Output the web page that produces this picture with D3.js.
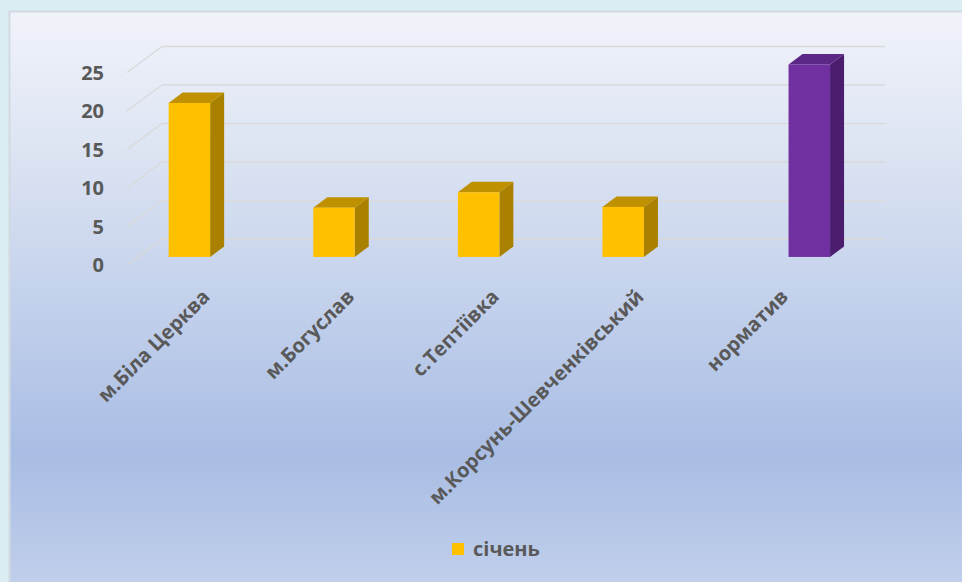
<!DOCTYPE html>
<html>
<head>
<meta charset="utf-8">
<script src="https://cdn.jsdelivr.net/npm/d3@7/dist/d3.min.js"></script>
<style>
  html, body { margin: 0; padding: 0; background: #d9edf3; }
  svg { display: block; }
  text { font-family: 'Open Sans', sans-serif; font-weight: bold; fill: #595959; }
</style>
</head>
<body>
<svg id="chart" width="962" height="582"></svg>
<script>
// Chart data
var categories = ['м.Біла Церква', 'м.Богуслав', 'с.Тептіївка', 'м.Корсунь-Шевченківський', 'норматив']
var seriesNames = ['січень', 'норматив']
var sichen = [20, 6.4, 8.4, 6.5, null]
var normatyv = [null, null, null, null, 25]
var yTicks = [0, 5, 10, 15, 20, 25]
var legendNames = ['січень']

var conf = {
  width: 962,
  height: 582,
  left: 127,
  right: 850,
  depthX: 35,
  depthY: -26,
  barFront: 0.31,
  barBack: 0.71
}

var colors = {
  'січень': { front: '#ffc000', side: '#a98000', top: '#bf9000' },
  'норматив': { front: '#7030a0', side: '#4b1d6f', top: '#5c2886' }
}

var svg = d3.select('#chart')

// Background panel
var defs = svg.append('defs')
var grad = defs.append('linearGradient')
  .attr('id', 'bg')
  .attr('x1', 0).attr('y1', 0).attr('x2', 0).attr('y2', 1)
grad.append('stop').attr('offset', '0%').attr('stop-color', '#f1f3fa')
grad.append('stop').attr('offset', '25%').attr('stop-color', '#dbe3f2')
grad.append('stop').attr('offset', '50%').attr('stop-color', '#c2d0eb')
grad.append('stop').attr('offset', '75%').attr('stop-color', '#a9bde4')
grad.append('stop').attr('offset', '100%').attr('stop-color', '#c3d1eb')

svg.append('rect')
  .attr('x', 9.5)
  .attr('y', 11.5)
  .attr('width', 970)
  .attr('height', 590)
  .attr('fill', 'url(#bg)')
  .attr('stroke', '#d3d9e0')
  .attr('stroke-width', 2)

// Scales
var y = d3.scaleLinear()
  .domain([0, 25])
  .range([265, 72.5])

var x0 = d3.scaleBand()
  .domain(categories)
  .range([conf.left, conf.right])
  .paddingInner(0.426)
  .paddingOuter(0.213)

var x1 = d3.scaleBand()
  .domain(seriesNames)
  .range([0, x0.bandwidth()])

// project a point on the front plane into the given depth
function proj (x, v, f) {
  return [x + f * conf.depthX, y(v) + f * conf.depthY]
}

// Gridlines: back wall + side wall
var grid = svg.append('g').attr('class', 'grid')

grid.selectAll('line.back')
  .data(yTicks)
  .enter()
    .append('line')
    .attr('class', 'back')
    .attr('x1', function (d) { return proj(conf.left, d, 1)[0] })
    .attr('y1', function (d) { return proj(conf.left, d, 1)[1] })
    .attr('x2', function (d) { return proj(conf.right, d, 1)[0] })
    .attr('y2', function (d) { return proj(conf.right, d, 1)[1] })
    .attr('stroke', '#d9d9d9')
    .attr('stroke-width', 1.3)

grid.selectAll('line.side')
  .data(yTicks)
  .enter()
    .append('line')
    .attr('class', 'side')
    .attr('x1', function (d) { return proj(conf.left, d, 0)[0] })
    .attr('y1', function (d) { return proj(conf.left, d, 0)[1] })
    .attr('x2', function (d) { return proj(conf.left, d, 1)[0] })
    .attr('y2', function (d) { return proj(conf.left, d, 1)[1] })
    .attr('stroke', '#d9d9d9')
    .attr('stroke-width', 1.3)

// Y axis labels
svg.append('g')
  .selectAll('text')
  .data(yTicks)
  .enter()
    .append('text')
    .attr('x', 104)
    .attr('y', function (d) { return y(d) })
    .attr('dy', '0.35em')
    .attr('text-anchor', 'end')
    .attr('font-size', 20)
    .text(function (d) { return d })

// Bars
var barData = []
categories.forEach(function (c, i) {
  if (sichen[i] != null) barData.push({ cat: c, series: 'січень', value: sichen[i] })
  if (normatyv[i] != null) barData.push({ cat: c, series: 'норматив', value: normatyv[i] })
})

var bars = svg.selectAll('g.bar')
  .data(barData)
  .enter()
    .append('g')
    .attr('class', 'bar')

function pts (arr) {
  return arr.map(function (p) { return p.join(',') }).join(' ')
}

// Bar: side face
bars.append('polygon')
  .attr('points', function (d) {
    var xr = x0(d.cat) + x1(d.series) + x1.bandwidth()
    return pts([
      proj(xr, d.value, conf.barFront),
      proj(xr, d.value, conf.barBack),
      proj(xr, 0, conf.barBack),
      proj(xr, 0, conf.barFront)
    ])
  })
  .attr('fill', function (d) { return colors[d.series].side })

// Bar: top face
bars.append('polygon')
  .attr('points', function (d) {
    var xl = x0(d.cat) + x1(d.series)
    var xr = xl + x1.bandwidth()
    return pts([
      proj(xl, d.value, conf.barFront),
      proj(xr, d.value, conf.barFront),
      proj(xr, d.value, conf.barBack),
      proj(xl, d.value, conf.barBack)
    ])
  })
  .attr('fill', function (d) { return colors[d.series].top })

// Bar: front face
bars.append('rect')
  .attr('x', function (d) { return proj(x0(d.cat) + x1(d.series), d.value, conf.barFront)[0] })
  .attr('y', function (d) { return proj(0, d.value, conf.barFront)[1] })
  .attr('width', x1.bandwidth())
  .attr('height', function (d) { return y(0) - y(d.value) })
  .attr('fill', function (d) { return colors[d.series].front })

// Category labels
svg.append('g')
  .selectAll('text')
  .data(categories)
  .enter()
    .append('text')
    .attr('text-anchor', 'end')
    .attr('font-size', 20)
    .attr('dy', '0.35em')
    .attr('transform', function (d) {
      var cx = x0(d) + x0.bandwidth() / 2 + conf.barFront * conf.depthX - 4
      return 'translate(' + cx + ', 293) rotate(-45)'
    })
    .text(function (d) { return d })

// Legend
var legend = svg.append('g')
  .selectAll('g')
  .data(legendNames)
  .enter()
    .append('g')
    .attr('transform', 'translate(452, 543)')

legend.append('rect')
  .attr('width', 12)
  .attr('height', 12)
  .attr('fill', function (d) { return colors[d].front })

legend.append('text')
  .attr('x', 21)
  .attr('y', 6)
  .attr('dy', '0.35em')
  .attr('font-size', 20)
  .text(function (d) { return d })
</script>
</body>
</html>
